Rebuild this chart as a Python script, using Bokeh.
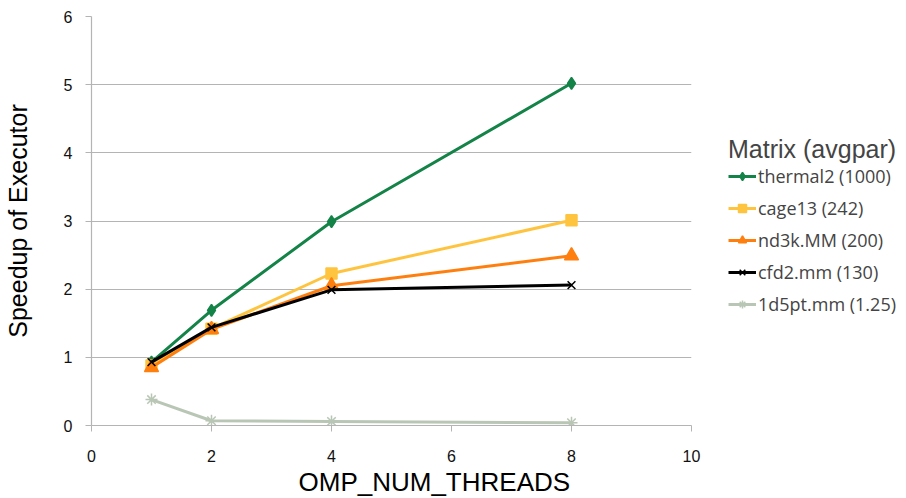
from bokeh.plotting import figure
from bokeh.models import Legend, LegendItem, Range1d, FixedTicker, Title
from bokeh.layouts import row
from bokeh.embed import file_html
from bokeh.resources import INLINE

threads = [1, 2, 4, 8]
thermal2 = [0.93, 1.69, 2.99, 5.02]
cage13 = [0.88, 1.42, 2.23, 3.01]
nd3k = [0.85, 1.41, 2.05, 2.49]
cfd2 = [0.93, 1.44, 1.99, 2.06]
d5pt = [0.38, 0.07, 0.06, 0.04]

names = ["thermal2 (1000)", "cage13 (242)", "nd3k.MM (200)", "cfd2.mm (130)", "1d5pt.mm (1.25)"]
series = [thermal2, cage13, nd3k, cfd2, d5pt]
colors = ["#138348", "#FFC43F", "#FF7F0E", "#000000", "#B9C6B5"]
markers = ["diamond", "square", "triangle", "x", "asterisk"]
msizes = [12, 11, 14, 11, 12]

H = 498
p = figure(width=708, height=H, output_backend="svg", toolbar_location=None,
           x_range=Range1d(0, 10), y_range=Range1d(0, 6),
           min_border_left=89, min_border_top=16, min_border_bottom=H - 425, min_border_right=17)
p.outline_line_color = None
p.xgrid.grid_line_color = None
p.ygrid.grid_line_color = "#b4b4b4"
p.ygrid.grid_line_width = 1.2

p.xaxis.ticker = FixedTicker(ticks=[0, 2, 4, 6, 8, 10])
p.yaxis.ticker = FixedTicker(ticks=[0, 1, 2, 3, 4, 5, 6])
for ax in (p.xaxis, p.yaxis):
    ax.axis_line_color = "#b4b4b4"
    ax.axis_line_width = 1.2
    ax.major_tick_line_color = "#b4b4b4"
    ax.major_tick_out = 6
    ax.major_tick_in = 0
    ax.minor_tick_line_color = None
    ax.major_label_text_font = "Liberation Sans"
    ax.major_label_text_font_size = "16px"
    ax.major_label_text_color = "#111111"
    ax.axis_label_text_font = "Liberation Sans"
    ax.axis_label_text_font_size = "25px"
    ax.axis_label_text_font_style = "normal"
    ax.axis_label_text_color = "#000000"
p.yaxis.axis_label = "Speedup of Executor"
p.xaxis.major_label_standoff = 18
p.yaxis.major_label_standoff = 13
p.yaxis.axis_label_standoff = 29

xtitle = Title(text="OMP_NUM_THREADS", align="left", offset=207, standoff=0,
               text_font="Liberation Sans", text_font_size="26px",
               text_font_style="normal", text_color="#000000")
p.add_layout(xtitle, "below")

for ys, c, m, s in zip(series, colors, markers, msizes):
    p.line(threads, ys, line_color=c, line_width=3)
    p.scatter(threads, ys, marker=m, size=s, fill_color=c, line_color=c, line_width=1.5)

# legend panel (its glyph renderers use the same data but lie outside its view)
p2 = figure(width=198, height=H, output_backend="svg", toolbar_location=None,
            x_range=Range1d(100, 101), y_range=Range1d(100, 101),
            min_border_left=0, min_border_right=0, min_border_top=0, min_border_bottom=0)
p2.axis.visible = False
p2.grid.visible = False
p2.outline_line_color = None

items = []
for name, ys, c, m, s in zip(names, series, colors, markers, msizes):
    r1 = p2.line(threads, ys, line_color=c, line_width=3)
    r2 = p2.scatter(threads, ys, marker=m, size=s, fill_color=c, line_color=c, line_width=1.5)
    items.append(LegendItem(label=name, renderers=[r1, r2]))

legend = Legend(items=items, title="Matrix (avgpar)", location=(20, 109),
                title_text_font="Liberation Sans", title_text_font_size="25px",
                title_text_font_style="normal", title_standoff=0,
                label_text_font="Open Sans", label_text_font_size="18px",
                glyph_width=28, glyph_height=20, label_height=20, spacing=8,
                label_standoff=2, padding=0, margin=0,
                border_line_color=None, background_fill_alpha=0)
p2.add_layout(legend, "center")

layout = row(p, p2)
open("out.html", "w").write(file_html(layout, INLINE))
